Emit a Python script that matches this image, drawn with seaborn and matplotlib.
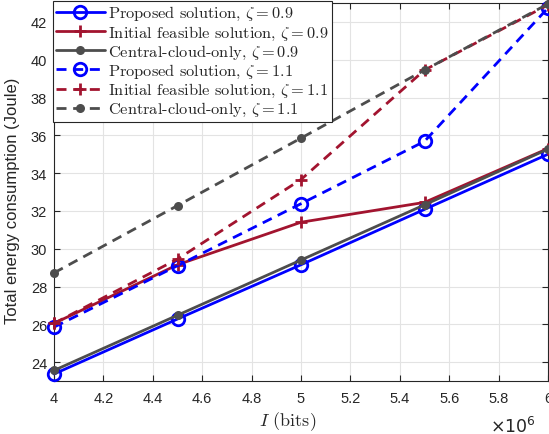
import numpy as np
import pandas as pd
import seaborn as sns
import matplotlib.pyplot as plt
from matplotlib.ticker import FuncFormatter, MultipleLocator

# data sizes (bits)
bits = [4.0e6, 4.5e6, 5.0e6, 5.5e6, 6.0e6]

# total energy consumption (Joule)
proposed_09 = [23.37, 26.28, 29.15, 32.08, 35.00]
initial_09 = [26.05, 29.15, 31.40, 32.45, 35.30]
central_09 = [23.56, 26.48, 29.40, 32.32, 35.27]
proposed_11 = [25.85, 29.10, 32.38, 35.68, 42.74]
initial_11 = [26.05, 29.45, 33.66, 39.45, 42.90]
central_11 = [28.72, 32.28, 35.85, 39.45, 42.95]

labels = [
    r"Proposed solution, $\zeta = 0.9$",
    r"Initial feasible solution, $\zeta = 0.9$",
    r"Central-cloud-only, $\zeta = 0.9$",
    r"Proposed solution, $\zeta = 1.1$",
    r"Initial feasible solution, $\zeta = 1.1$",
    r"Central-cloud-only, $\zeta = 1.1$",
]

BLUE = "#0000FF"
RED = "#A2142F"
GRAY = "#4D4D4D"


def energy_plot() -> None:
    """
    Line plot of total energy consumption against data size.
    """
    sns.set_theme(style = "whitegrid")
    plt.rcParams["font.family"] = ["Liberation Sans", "DejaVu Sans"]
    plt.rcParams["mathtext.fontset"] = "cm"

    fig = plt.figure(figsize = (5.49, 4.35), dpi = 100)
    ax = fig.add_axes([54 / 549, 1 - 382 / 435, 494 / 549, 378 / 435])

    series = [proposed_09, initial_09, central_09, proposed_11, initial_11, central_11]
    colors = [BLUE, RED, GRAY, BLUE, RED, GRAY]
    styles = ["-", "-", "-", "--", "--", "--"]
    markers = ["o", "+", "o", "o", "+", "o"]

    for vals, lab, col, ls, mk in zip(series, labels, colors, styles, markers):
        df = pd.DataFrame({"bits": bits, "energy": vals})
        if mk == "o" and col == BLUE:
            mkw = dict(markersize = 9, markerfacecolor = "none", markeredgewidth = 2)
        elif mk == "+":
            mkw = dict(markersize = 8, markeredgewidth = 2)
        else:
            mkw = dict(markersize = 6.5, markerfacecolor = col, markeredgewidth = 0)
        line_kw = dict(dashes = (3.6, 2.4)) if ls == "--" else dict(linestyle = "-")
        sns.lineplot(data = df, x = "bits", y = "energy", ax = ax, color = col,
                     linewidth = 2, marker = mk, label = lab,
                     markeredgecolor = col, clip_on = False, zorder = 3, **line_kw, **mkw)

    ax.set_xlim(4e6, 6e6)
    ax.set_ylim(23, 43)
    ax.xaxis.set_major_locator(MultipleLocator(0.2e6))
    ax.yaxis.set_major_locator(MultipleLocator(2))
    ax.xaxis.set_major_formatter(FuncFormatter(lambda v, p: f"{v / 1e6:g}"))

    ax.set_facecolor("white")
    ax.grid(True, color = "#E3E3E3", linewidth = 0.8)
    for s in ax.spines.values():
        s.set_visible(True)
        s.set_color("#262626")
        s.set_linewidth(0.8)
    ax.tick_params(axis = "both", which = "both", direction = "in", length = 4,
                   width = 0.8, colors = "#262626", labelsize = 10.5,
                   top = True, right = True, bottom = True, left = True, pad = 5)
    ax.tick_params(axis = "x", pad = 7)

    ax.set_xlabel(r"$I$ (bits)", fontfamily = "cmr10", fontsize = 13, color = "#262626")
    ax.xaxis.set_label_coords(0.474, -0.074)
    ax.set_ylabel("Total energy consumption (Joule)", fontsize = 12, color = "#262626")
    ax.yaxis.set_label_coords(-0.069, 0.48)

    fig.text(490 / 549, 1 - 426 / 435, r"$\times10^{6}$", ha = "left", va = "center",
             fontsize = 12.5, color = "#262626", math_fontfamily = "dejavusans")

    leg = ax.legend(loc = "upper left", bbox_to_anchor = (-0.003, 1.005),
                    prop = {"family": "cmr10", "size": 11.8}, handlelength = 3.0,
                    handletextpad = 0.2, labelspacing = 0.07, borderpad = 0.2,
                    borderaxespad = 0, fancybox = False, framealpha = 1)
    leg.get_frame().set_edgecolor("#262626")
    leg.get_frame().set_linewidth(0.8)
    leg.set_zorder(5)

    fig.savefig("out.png", dpi = 100)


if __name__ == "__main__":
    energy_plot()
